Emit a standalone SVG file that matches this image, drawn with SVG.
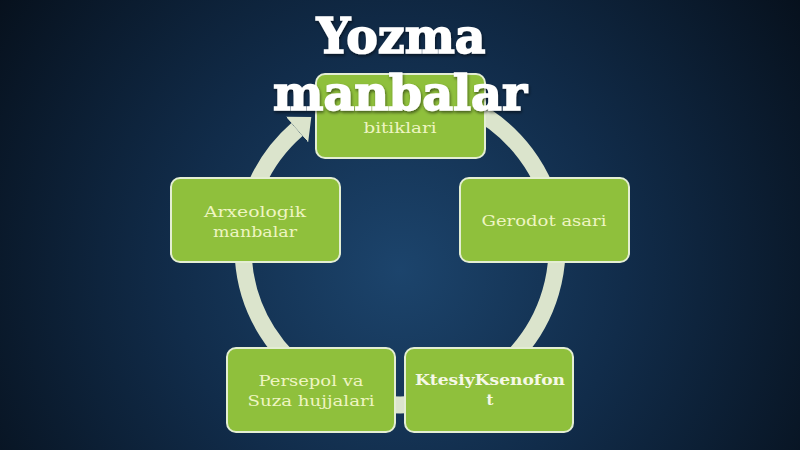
<svg xmlns="http://www.w3.org/2000/svg" width="800" height="450" viewBox="0 0 800 450">
<defs>
<radialGradient id="bg" cx="400" cy="270" r="500" gradientUnits="userSpaceOnUse">
<stop offset="0" stop-color="#1c446c"/>
<stop offset="0.45" stop-color="#112c4a"/>
<stop offset="1" stop-color="#060f1a"/>
</radialGradient>
<marker id="head" markerUnits="userSpaceOnUse" viewBox="0 -17 19 34" markerWidth="19" markerHeight="34" refX="0" refY="0" orient="auto">
<path d="M0,-17 L19,0 L0,17 Z" fill="#dbe4cc"/>
</marker>
<filter id="sh" x="-10%" y="-10%" width="120%" height="130%">
<feDropShadow dx="1" dy="2" stdDeviation="1.5" flood-color="#000" flood-opacity="0.5"/>
</filter>
</defs>
<style>
.node rect{fill:#8fc03c;stroke:#e4eed3;stroke-width:2}
.lbl{font-family:"DejaVu Serif","Liberation Serif",serif;font-size:15px;fill:#eef5c2;text-anchor:middle}
.bold{font-weight:bold;fill:#f6f8e6}
.title{font-family:"DejaVu Serif","Liberation Serif",serif;font-weight:bold;font-size:48px;fill:#ffffff;stroke:#ffffff;stroke-width:1.6;text-anchor:middle}
</style>
<rect width="800" height="450" fill="url(#bg)"/>
<g id="connectors">
<path d="M400,91 A157,157 0 1 1 297,129.5" fill="none" stroke="#dbe4cc" stroke-width="17" marker-end="url(#head)"/>
</g>
<g id="node-top" class="node">
<rect x="316" y="74" width="169" height="84" rx="9"/>
<text class="lbl" x="400" y="133" textLength="73" lengthAdjust="spacingAndGlyphs">bitiklari</text>
</g>
<g id="node-arxeologik" class="node">
<rect x="171" y="178" width="169" height="84" rx="9"/>
<text class="lbl" x="255" y="217" textLength="102" lengthAdjust="spacingAndGlyphs">Arxeologik</text>
<text class="lbl" x="255" y="237" textLength="84" lengthAdjust="spacingAndGlyphs">manbalar</text>
</g>
<g id="node-gerodot" class="node">
<rect x="460" y="178" width="169" height="84" rx="9"/>
<text class="lbl" x="544" y="226" textLength="125" lengthAdjust="spacingAndGlyphs">Gerodot asari</text>
</g>
<g id="node-ktesiy" class="node">
<rect x="405" y="348" width="168" height="84" rx="9"/>
<text class="lbl bold" x="490" y="385" textLength="150" lengthAdjust="spacingAndGlyphs">KtesiyKsenofon</text>
<text class="lbl bold" x="490" y="405">t</text>
</g>
<g id="node-persepol" class="node">
<rect x="227" y="348" width="168" height="84" rx="9"/>
<text class="lbl" x="311" y="386" textLength="105" lengthAdjust="spacingAndGlyphs">Persepol va</text>
<text class="lbl" x="311" y="406" textLength="127" lengthAdjust="spacingAndGlyphs">Suza hujjalari</text>
</g>
<g id="title" filter="url(#sh)">
<text class="title" x="401" y="53" textLength="169" lengthAdjust="spacingAndGlyphs">Yozma</text>
<text class="title" x="400" y="110" textLength="254" lengthAdjust="spacingAndGlyphs">manbalar</text>
</g>
</svg>
